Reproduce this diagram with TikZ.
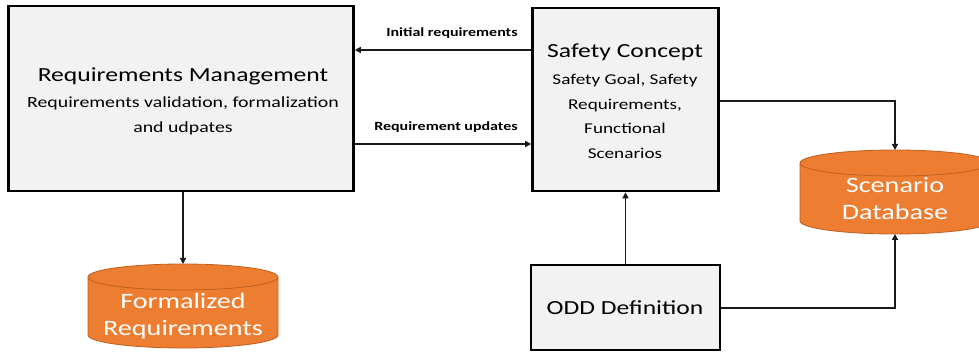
\documentclass[tikz,border=0pt]{standalone}
\usepackage{fontspec}
\setmainfont{Carlito}[FakeStretch=1.28]
\usetikzlibrary{arrows.meta}
\definecolor{boxfill}{HTML}{F2F2F2}
\definecolor{dborange}{HTML}{ED7D31}
\definecolor{dbedge}{HTML}{C0601E}
\definecolor{linegray}{HTML}{1A1A1A}
\begin{document}
\begin{tikzpicture}[x=1pt,y=-1pt,
  procbox/.style={draw=black,line width=2.6pt,fill=boxfill,inner sep=0pt},
  conn/.style={draw=linegray,line width=1.6pt,-{Triangle[length=6pt,width=6pt]}},
  lbl/.style={font=\bfseries\fontsize{12.5}{14}\selectfont,inner sep=0pt},
  dbtext/.style={text=white,font=\fontsize{22}{27}\selectfont,align=center,inner sep=0pt},
  dbshape/.style={fill=dborange,draw=dbedge,line width=0.8pt}]
\useasboundingbox (0,0) rectangle (979,352);
% boxes
\node[procbox,minimum width=345,minimum height=185] (rm) at (181,98.5) {};
\node[procbox,minimum width=186,minimum height=183] (sc) at (625.5,99.5) {};
\node[procbox,minimum width=189,minimum height=85] (odd) at (625.5,307.5) {};
% box texts
\node[inner sep=0pt,font=\fontsize{20}{24}\selectfont] (rmt) at (183,76) {Requirements Management};
\node[inner sep=0pt,align=center,font=\fontsize{15.5}{25}\selectfont] (rms) at (183,116) {Requirements validation, formalization\\and udpates};
\node[inner sep=0pt,font=\fontsize{20}{24}\selectfont] (sct) at (625,52) {Safety Concept};
\node[inner sep=0pt,align=center,font=\fontsize{15}{24.5}\selectfont] (scs) at (625,116.5) {Safety Goal, Safety\\Requirements,\\Functional\\Scenarios};
\node[inner sep=0pt,font=\fontsize{20}{24}\selectfont] (oddt) at (625,308) {ODD Definition};
% cylinders
\path[dbshape] (800,163) -- (800,221) arc[start angle=180,end angle=0,x radius=95,y radius=13] -- (990,163) arc[start angle=0,end angle=-180,x radius=95,y radius=13] -- cycle;
\draw[dbedge,line width=0.8pt] (800,163) arc[start angle=180,end angle=0,x radius=95,y radius=13];
\coordinate (sdbtop) at (895,150);
\coordinate (sdbbot) at (895,234);
\node[dbtext] (sdb) at (895,199) {Scenario\\Database};
\path[dbshape] (88,277) -- (88,335) arc[start angle=180,end angle=0,x radius=95,y radius=13] -- (278,277) arc[start angle=0,end angle=-180,x radius=95,y radius=13] -- cycle;
\draw[dbedge,line width=0.8pt] (88,277) arc[start angle=180,end angle=0,x radius=95,y radius=13];
\coordinate (frtop) at (183,264);
\node[dbtext] (fr) at (183,316) {Formalized\\Requirements};
% connectors
\draw[conn] (sc.west |- 0,50) -- (rm.east |- 0,50);
\node[lbl] (l1) at (452,33) {Initial requirements};
\draw[conn] (rm.east |- 0,144) -- (sc.west |- 0,144);
\node[lbl] (l2) at (446,127) {Requirement updates};
\draw[conn] (sc.east |- 0,101) -| (sdbtop);
\draw[conn] (odd.east |- 0,308) -| (sdbbot);
\draw[conn] (odd.north) -- (sc.south);
\draw[conn] (rm.south -| frtop) -- (frtop);
\end{tikzpicture}
\end{document}
